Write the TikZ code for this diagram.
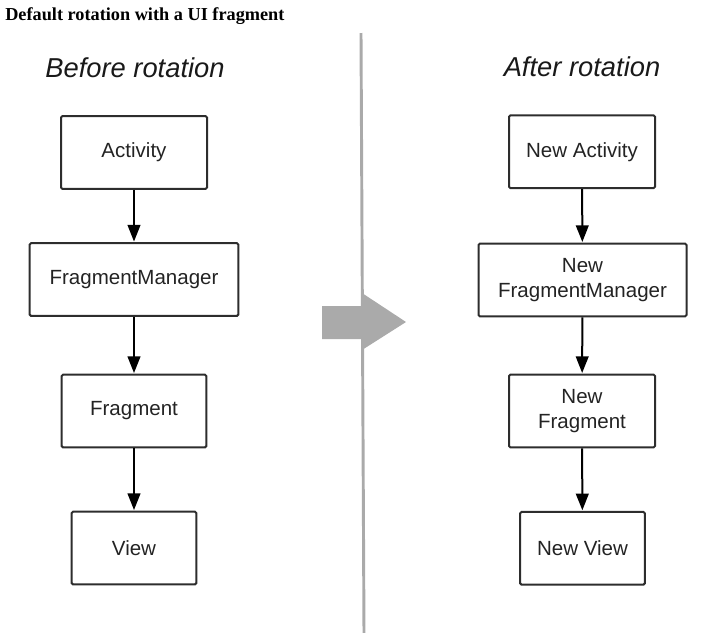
\documentclass[tikz,border=0pt]{standalone}
\usepackage{fontspec}
\setmainfont{Liberation Sans}
\newfontfamily\titlefont{Liberation Serif}
\usetikzlibrary{arrows.meta}

\definecolor{boxline}{RGB}{45,45,45}
\definecolor{boxtext}{RGB}{35,35,35}
\definecolor{divgray}{RGB}{170,170,170}

\begin{document}
\begin{tikzpicture}[x=0.75pt,y=0.75pt,yscale=-1,xscale=1,
  objbox/.style={draw=boxline,line width=1.5pt,rounded corners=1pt,minimum height=54.5pt,
    align=center,text=boxtext,inner sep=0pt,font=\fontsize{15.4}{18.8}\selectfont},
  flow/.style={draw=black,line width=1.5pt,-{Triangle[width=9.5pt,length=12.5pt]},shorten >=0.5pt},
  heading/.style={anchor=base,inner sep=0pt,text=black!90,font=\fontsize{20.5}{24}\selectfont\itshape}]
\useasboundingbox (0,0) rectangle (719,633);

% Text Node
\node (title) [anchor=base west,inner sep=0pt] at (5,20) {\titlefont\bfseries\fontsize{13.7}{16}\selectfont Default rotation with a UI fragment};

%Straight Lines [id:divider]
\draw [color=divgray,line width=2.2pt] (361,33) -- (364,633) ;
%Shape: Right Arrow [id:rotation]
\fill [color=divgray] (322,306) -- (362,306) -- (362,293) -- (406,322) -- (362,350) -- (362,339) -- (322,339) -- cycle ;

% Text Node
\node (before) [heading] at (135,77) {Before rotation};
% Text Node
\node (after) [heading] at (582,76) {After rotation};

%Shape: Rectangle [id:act]
\node (act) [objbox,minimum width=109.5pt] at (134,152.5) {Activity};
%Shape: Rectangle [id:fm]
\node (fm) [objbox,minimum width=156.5pt] at (134,279.5) {FragmentManager};
%Shape: Rectangle [id:frag]
\node (frag) [objbox,minimum width=108.5pt] at (134,411) {Fragment};
%Shape: Rectangle [id:view]
\node (view) [objbox,minimum width=93.5pt] at (134,548) {View};

%Shape: Rectangle [id:nact]
\node (nact) [objbox,minimum width=109.5pt] at (582,151.7) {New Activity};
%Shape: Rectangle [id:nfm]
\node (nfm) [objbox,minimum width=156pt] at (582.5,280) {New\\FragmentManager};
%Shape: Rectangle [id:nfrag]
\node (nfrag) [objbox,minimum width=109.5pt] at (582,411) {New\\Fragment};
%Shape: Rectangle [id:nview]
\node (nview) [objbox,minimum width=93.5pt] at (582.5,548.3) {New View};

%Straight Lines
\draw [flow] (act) -- (fm) ;
\draw [flow] (fm) -- (frag) ;
\draw [flow] (frag) -- (view) ;
%Straight Lines
\draw [flow] (nact) -- (nfm) ;
\draw [flow] (nfm) -- (nfrag) ;
\draw [flow] (nfrag) -- (nview) ;

\end{tikzpicture}
\end{document}
